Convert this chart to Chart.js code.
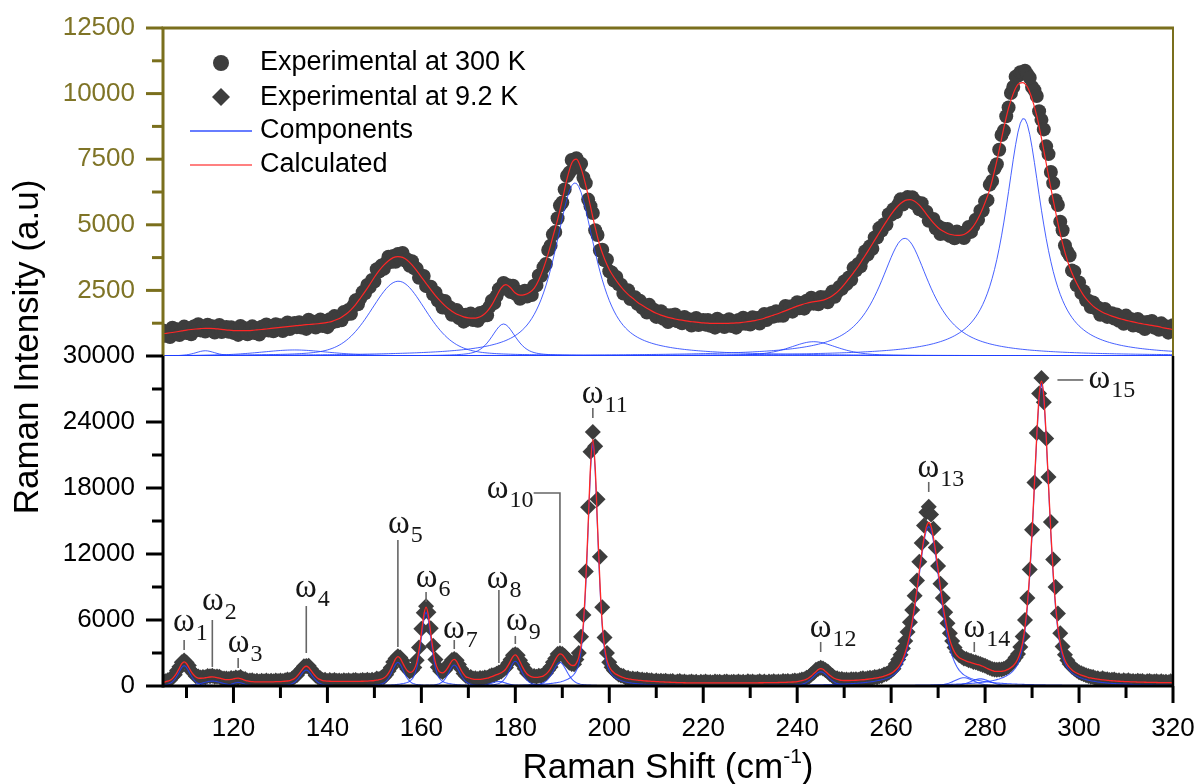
<!DOCTYPE html>
<html>
<head>
<meta charset="utf-8">
<script src="https://cdn.jsdelivr.net/npm/chart.js@4.4.1/dist/chart.umd.min.js"></script>
<style>
  html, body { margin: 0; padding: 0; background: #ffffff; }
  canvas { display: block; }
</style>
</head>
<body>
<canvas id="raman" width="1197" height="784"></canvas>
<script>
// Raman shift sampling of the measured spectra (cm-1)
const shiftStart = 105;
const shiftEnd = 320;
const expStep = 0.5;

// Measured intensity at 300 K, one value every 0.5 cm-1 from 105 to 320
const exp300K = [
  970,770,910,722,1075,880,1015,800,965,1120,
  875,1058,830,1120,980,1208,975,1080,935,1195,1035,1130,895,1085,1185,915,1005,1105,925,1098,
  880,1008,805,1145,935,1058,830,985,1130,878,1055,822,1110,970,1200,970,1080,940,1210,1060,
  1170,950,1160,1280,1030,1140,1260,1100,1290,1088,1225,1032,1380,1178,1305,1082,1240,1390,1140,1325,
  1100,1400,1270,1520,1320,1460,1360,1680,1580,1755,1610,1905,2120,1975,2200,2435,2390,2705,2630,2900,
  2840,3305,3220,3445,3320,3555,3780,3580,3810,3590,3890,3725,3930,3635,3680,3440,3610,3340,3330,2980,
  3060,3050,2670,2650,2640,2355,2420,2110,2140,1850,2100,1815,1860,1570,1660,1755,1450,1585,1310,1570,
  1400,1615,1370,1480,1340,1640,1520,1700,1550,1875,2110,2015,2280,2550,2540,2780,2630,2700,2440,2680,
  2370,2450,2180,2340,2490,2270,2480,2320,2680,2690,3070,3055,3380,3505,4040,4205,4630,4725,5250,5735,
  5850,6350,6860,6990,7470,7335,7540,7165,7330,6795,6590,5960,5710,5450,4790,4610,4020,4050,3650,3670,
  3230,3180,2880,3015,2730,2720,2380,2490,2510,2175,2200,2235,1990,2110,1840,1915,1660,1950,1690,1765,
  1490,1605,1710,1420,1560,1295,1550,1380,1580,1325,1410,1245,1490,1315,1400,1160,1350,1450,1180,1270,
  1370,1195,1370,1155,1280,1080,1420,1210,1330,1102,1255,1398,1140,1315,1080,1368,1225,1455,1225,1338,
  1200,1475,1330,1450,1240,1465,1600,1370,1500,1640,1500,1710,1530,1695,1530,1905,1730,1885,1690,1875,
  2050,1820,2020,1805,2110,1980,2220,1995,2110,1975,2250,2115,2240,2050,2290,2460,2260,2440,2630,2560,
  2840,2745,2990,2905,3360,3270,3510,3420,3710,3990,3870,4185,4090,4515,4510,4875,4780,5020,5010,5405,
  5380,5595,5480,5770,5970,5770,5930,6055,5900,6050,5810,5865,5590,5820,5500,5500,5150,5190,5220,4870,
  4950,4645,4860,4665,4840,4575,4650,4490,4740,4585,4690,4495,4730,4915,4730,4955,5190,5190,5540,5545,
  5890,5940,6530,6670,7140,7310,7860,8425,8590,9135,9470,10025,10250,10645,10680,10815,10800,10875,10730,10605,
  10250,10125,9910,9325,9000,8635,7990,7695,7010,6590,5940,5755,5120,4790,4210,3975,3830,3255,3210,2695,
  2800,2400,2470,2120,2110,1870,2040,1815,1850,1570,1720,1790,1490,1555,1630,1430,1580,1345,1450,1225,
  1540,1310,1410,1160,1290,1410,1130,1285,1030,1295,1130,1335,1080,1165,1000,1245,1050,1135,890,1075,
  1170
];

// Measured intensity at 9.2 K, one value every 0.5 cm-1 from 105 to 320
const exp9K = [
  460,427,526,553,840,1030,1410,1760,2150,2320,
  2140,1860,1390,1170,881,856,766,807,791,911,888,924,839,865,838,704,686,690,636,718,
  691,778,737,808,665,629,498,500,522,426,480,399,485,437,505,438,470,424,509,465,
  504,445,533,586,547,680,830,980,1300,1515,1800,1825,1850,1535,1290,960,800,702,548,558,
  465,542,485,550,478,506,455,534,484,515,446,518,551,474,509,544,501,570,511,567,
  530,673,639,741,800,1020,1360,1675,2175,2510,2700,2600,2300,1845,1550,1325,1435,1690,2350,3500,
  5200,6650,7250,6700,5250,3650,2400,1700,1360,1270,1440,1700,2060,2360,2450,2330,1960,1540,1140,910,
  820,811,693,699,642,725,701,766,741,876,979,991,1108,1220,1315,1510,1690,2070,2400,2800,
  2880,2790,2350,1930,1570,1190,1033,855,902,844,931,906,1017,1150,1460,1730,2170,2510,2900,2980,
  2900,2720,2440,2120,2000,1975,2420,3000,4480,6450,10400,16250,21300,23100,21800,16970,11750,7150,4400,3000,
  2150,1700,1400,1230,1040,960,902,753,755,635,685,610,660,570,580,512,575,510,525,442,
  500,429,488,438,488,399,430,451,352,413,445,360,406,333,370,419,338,387,306,395,
  345,414,344,373,323,403,353,383,314,385,416,336,366,396,346,406,337,377,318,429,
  360,400,330,372,424,346,399,321,414,367,440,374,409,363,448,405,444,384,465,511,
  455,516,591,605,750,840,1055,1195,1480,1570,1660,1580,1460,1320,1060,940,730,710,605,645,
  560,588,540,625,582,622,564,649,697,640,695,753,733,827,797,880,910,1040,1090,1220,
  1380,1560,2000,2400,2850,3400,4100,4900,5800,6900,8200,9600,11300,13000,14600,15800,16300,15600,14300,12600,
  10900,9300,8000,6700,5700,4800,4100,3500,3100,2800,2650,2500,2450,2330,2290,2180,2150,2060,2010,1920,
  1830,1720,1640,1550,1500,1470,1490,1500,1560,1660,1800,2000,2300,2600,2900,3550,4500,6000,8000,10600,
  14200,18500,23000,26600,28000,25800,22500,19000,14900,11500,9000,6600,4800,3600,2850,2350,2000,1750,1560,1400,
  1250,1150,1060,980,900,830,808,702,706,619,703,610,625,537,559,594,497,533,441,520,
  459,521,443,465,408,481,425,449,373,437,462,378,404,429,375,431,358,394,331,438,
  365
];

// Fitted (calculated) spectrum at 300 K, one value every 1 cm-1 from 105 to 320
const calcStep300K = 1;
const calc300K = [
  850,870,895,925,955,985,1010,1030,1045,1055,
  1055,1045,1025,1005,985,970,965,965,970,980,
  995,1010,1030,1050,1070,1090,1110,1130,1150,1170,
  1185,1200,1215,1230,1250,1280,1320,1390,1480,1600,
  1760,1960,2200,2450,2720,3000,3250,3460,3630,3750,
  3790,3760,3650,3470,3250,3010,2770,2530,2300,2100,
  1920,1770,1650,1560,1490,1450,1440,1460,1540,1700,
  1950,2280,2600,2720,2600,2400,2320,2340,2420,2580,
  2900,3350,3900,4550,5200,5950,6750,7350,7500,7150,
  6500,5700,4900,4200,3700,3300,3000,2750,2530,2350,
  2200,2050,1930,1820,1720,1630,1560,1500,1450,1410,
  1380,1350,1320,1300,1280,1260,1250,1240,1240,1240,
  1245,1250,1260,1275,1295,1320,1350,1390,1440,1500,
  1560,1620,1690,1760,1830,1900,1960,2010,2050,2080,
  2110,2160,2240,2360,2520,2720,2950,3180,3420,3700,
  3980,4270,4560,4850,5130,5400,5630,5810,5930,5960,
  5900,5750,5530,5290,5070,4890,4760,4670,4620,4600,
  4610,4680,4830,5080,5420,5850,6350,7050,7850,8700,
  9450,10000,10350,10420,10250,9800,9150,8300,7350,6400,
  5500,4650,3950,3380,2950,2600,2300,2080,1900,1770,
  1670,1590,1520,1460,1410,1360,1320,1280,1240,1210,
  1180,1150,1120,1070,1040,1010
];

// Fitted (calculated) spectrum at 9.2 K, one value every 0.5 cm-1 from 105 to 320
const calcStep9K = 0.5;
const calc9K = [
  340,377,436,523,672,915,1243,1641,2026,2193,
  2042,1680,1309,1019,821,726,706,717,751,791,818,824,809,765,708,654,606,580,576,598,
  641,688,707,668,595,519,458,420,392,376,380,379,375,377,375,378,380,384,389,395,
  404,415,433,456,497,571,686,876,1124,1415,1685,1795,1685,1415,1126,874,686,572,498,458,
  445,432,425,420,418,416,415,414,414,415,416,418,421,424,429,434,441,450,461,477,
  500,533,569,631,726,894,1174,1549,2015,2462,2669,2510,2111,1705,1403,1244,1275,1543,2132,3277,
  4802,6404,7169,6403,4797,3269,2121,1524,1245,1196,1323,1583,1935,2285,2421,2234,1827,1412,1076,829,
  760,681,633,609,602,605,631,666,711,776,849,941,1028,1110,1205,1332,1561,1891,2291,2673,
  2821,2634,2206,1760,1380,1097,933,835,792,784,801,846,927,1067,1283,1583,1967,2382,2745,2913,
  2844,2580,2277,2019,1880,1865,2080,2599,3711,5767,9593,14634,19898,22416,19872,14582,9512,5655,3559,2382,
  1767,1411,1210,1054,940,849,772,703,655,615,575,550,530,510,490,472,455,440,425,412,
  400,389,378,368,358,349,340,331,322,313,305,300,296,293,290,289,288,287,286,285,
  285,284,284,283,283,283,283,283,284,285,286,286,286,286,286,286,287,287,288,289,
  290,290,290,292,294,296,299,301,304,307,310,314,319,323,328,335,344,354,365,381,
  405,436,481,545,630,750,915,1105,1300,1500,1580,1520,1330,1140,960,800,680,600,545,515,
  500,498,500,505,512,522,534,549,567,590,615,643,673,707,747,790,838,900,970,1055,
  1150,1295,1470,1705,2025,2460,3050,3770,4735,5905,7260,8780,10455,12050,13435,14470,14863,14522,13504,12143,
  10578,8934,7453,6155,5051,4173,3551,3083,2769,2577,2457,2366,2269,2199,2121,2057,1995,1949,1882,1794,
  1687,1581,1485,1401,1336,1324,1323,1338,1368,1445,1536,1670,1846,2098,2490,3086,3974,5382,7461,10322,
  14043,18365,22797,26351,27715,26339,22774,18329,13994,10259,7385,5291,3867,2964,2350,1938,1665,1463,1300,1179,
  1067,985,914,842,771,730,688,652,616,589,563,540,515,497,479,464,447,433,421,410,
  399,391,383,375,368,361,355,349,343,337,332,328,324,319,315,311,308,304,301,298,
  295
];

// Fit components at 300 K: centre (cm-1), height, FWHM (cm-1), Lorentzian fraction
const comp300KCentre  = [114, 133, 155.1, 177.5, 192.7, 243.5, 262.9, 288.2];
const comp300KHeight  = [200, 230, 2850, 1220, 6600, 545, 4485, 9060];
const comp300KWidth   = [5, 18, 14, 6, 10.4, 12, 13, 9.5];
const comp300KLorentz = [0.5, 0.5, 0.3, 0.5, 0.8, 0.5, 0.9, 0.9];

// Fit components at 9.2 K (modes w1 ... w15, w14 split in two)
const comp9KCentre  = [109.5, 115.5, 121, 135.5, 155, 161, 167, 176.5, 180, 189.5, 196.5, 245, 268, 275.5, 279, 292];
const comp9KHeight  = [1850, 450, 330, 1450, 2150, 6700, 1900, 400, 2250, 2150, 22000, 1300, 14500, 750, 650, 27400];
const comp9KWidth   = [3, 5, 3, 3.2, 3, 2.6, 3, 4, 3.2, 3.6, 2.6, 4, 5.8, 5, 5, 4];
const comp9KLorentz = [0.5, 0.5, 0.5, 0.5, 0.5, 0.5, 0.5, 0.5, 0.5, 0.5, 0.5, 0.5, 0.5, 0.5, 0.5, 0.5];

// Axis ticks
const xLabelTicks = [120, 140, 160, 180, 200, 220, 240, 260, 280, 300, 320];
const xMinorTicks = [110, 130, 150, 170, 190, 210, 230, 250, 270, 290, 310];
const yTopLabelTicks = [2500, 5000, 7500, 10000, 12500];
const yTopMinorTicks = [1250, 3750, 6250, 8750, 11250];
const yBotLabelTicks = [0, 6000, 12000, 18000, 24000, 30000];
const yBotMinorTicks = [3000, 9000, 15000, 21000, 27000];

// Mode labels: text anchor (shift, intensity) and leader line, in data units
const modeNotes = [
  { n: '1',  at: [107.13, 5000],  lead: [[109.5, 4180], [109.5, 3270]] },
  { n: '2',  at: [113.3, 6910],   lead: [[115.5, 6000], [115.5, 1730]] },
  { n: '3',  at: [118.8, 3090],   lead: [[121, 2550], [121, 1640]] },
  { n: '4',  at: [133.1, 8090],   lead: [[135.5, 7270], [135.5, 3000]] },
  { n: '5',  at: [152.9, 13910],  lead: [[155, 13270], [155, 3550]] },
  { n: '6',  at: [158.8, 9000],   lead: [[161, 8550], [161, 7640]] },
  { n: '7',  at: [164.6, 4360],   lead: [[167, 4180], [167, 3360]] },
  { n: '8',  at: [173.9, 8910],   lead: [[176.5, 8730], [176.5, 2090]] },
  { n: '9',  at: [178.0, 5090],   lead: [[180, 4550], [180, 3820]] },
  { n: '10', at: [173.9, 17090],  lead: [[183.9, 17550], [189.5, 17550], [189.5, 3900]] },
  { n: '11', at: [194.15, 25730], lead: [[196.5, 25270], [196.5, 24360]] },
  { n: '12', at: [242.66, 4450],  lead: [[245, 4000], [245, 3090]] },
  { n: '13', at: [265.6, 19000],  lead: [[268, 18550], [268, 17640]] },
  { n: '14', at: [275.4, 4450],   lead: [[277.7, 4000], [277.7, 3090]] },
  { n: '15', at: [302.0, 27090],  lead: [[295.4, 27820], [300.9, 27820]] }
];

const OLIVE = '#7a6f1d';
const OLIVE_TEXT = '#7f7426';
const DARK = '#3d3d3d';
const BLUE = 'rgba(30,62,255,0.82)';
const RED = '#ff2626';
const SANS = '"Liberation Sans", Arial, sans-serif';
const SERIF = '"Liberation Serif", "Times New Roman", serif';

// Pseudo-Voigt line shape used by the fit
function lineShape(x, centre, height, fwhm, lorentz) {
  const u = (x - centre) / (fwhm / 2);
  return height * (lorentz / (1 + u * u) + (1 - lorentz) * Math.exp(-Math.LN2 * u * u));
}
function sampled(values, start, step) {
  return values.map((y, i) => ({ x: start + i * step, y }));
}
function componentPoints(k, centres, heights, widths, lorentz, step) {
  const pts = [];
  const n = Math.round((shiftEnd - shiftStart) / step);
  for (let i = 0; i <= n; i++) {
    const x = shiftStart + i * step;
    pts.push({ x, y: lineShape(x, centres[k], heights[k], widths[k], lorentz[k]) });
  }
  return pts;
}

const datasets = [];
datasets.push({
  label: 'Calculated', data: sampled(calc300K, shiftStart, calcStep300K), yAxisID: 'yTop',
  showLine: true, pointRadius: 0, borderColor: RED, borderWidth: 1.2,
  cubicInterpolationMode: 'monotone', order: 0
});
datasets.push({
  label: 'Calculated 9.2 K', data: sampled(calc9K, shiftStart, calcStep9K), yAxisID: 'yBot',
  showLine: true, pointRadius: 0, borderColor: RED, borderWidth: 1.3,
  cubicInterpolationMode: 'monotone', order: 0
});
comp300KCentre.forEach((c, k) => datasets.push({
  label: 'Components', data: componentPoints(k, comp300KCentre, comp300KHeight, comp300KWidth, comp300KLorentz, 0.5),
  yAxisID: 'yTop', showLine: true, pointRadius: 0, borderColor: BLUE, borderWidth: 1, order: 1
}));
comp9KCentre.forEach((c, k) => datasets.push({
  label: 'Components 9.2 K', data: componentPoints(k, comp9KCentre, comp9KHeight, comp9KWidth, comp9KLorentz, 0.25),
  yAxisID: 'yBot', showLine: true, pointRadius: 0, borderColor: BLUE, borderWidth: 1.1, order: 1
}));
datasets.push({
  label: 'Experimental at 300 K', data: sampled(exp300K, shiftStart, expStep), yAxisID: 'yTop',
  showLine: false, pointStyle: 'circle', pointRadius: 7, pointBackgroundColor: DARK,
  pointBorderWidth: 0, order: 2
});
datasets.push({
  label: 'Experimental at 9.2 K', data: sampled(exp9K, shiftStart, expStep), yAxisID: 'yBot',
  showLine: false, pointStyle: 'rectRot', pointRadius: 8, pointBackgroundColor: DARK,
  pointBorderWidth: 0, order: 2
});

function line(ctx, x1, y1, x2, y2) {
  ctx.beginPath(); ctx.moveTo(x1, y1); ctx.lineTo(x2, y2); ctx.stroke();
}

// Axis frame, axis lines and tick marks of both panels
const panelFrame = {
  id: 'panelFrame',
  afterDatasetsDraw(chart) {
    const { ctx, chartArea: a, scales } = chart;
    const yt = scales.yTop, yb = scales.yBot, xs = scales.x;
    const mid = yt.bottom;
    ctx.save();
    ctx.lineCap = 'butt';
    // upper panel (olive)
    ctx.strokeStyle = OLIVE;
    ctx.lineWidth = 3;
    line(ctx, a.left - 1.5, a.top, a.right + 1, a.top);
    line(ctx, a.left, a.top, a.left, mid);
    ctx.lineWidth = 2;
    line(ctx, a.right, a.top, a.right, mid);
    ctx.lineWidth = 3;
    yTopLabelTicks.forEach(v => { const y = yt.getPixelForValue(v); line(ctx, a.left - 17, y, a.left, y); });
    yTopMinorTicks.forEach(v => { const y = yt.getPixelForValue(v); line(ctx, a.left - 11, y, a.left, y); });
    // lower panel (black)
    ctx.strokeStyle = '#000000';
    ctx.lineWidth = 3;
    line(ctx, a.left, mid, a.left, a.bottom + 1.5);
    line(ctx, a.left, a.bottom, a.right + 1, a.bottom);
    ctx.lineWidth = 2.5;
    line(ctx, a.right, mid, a.right, a.bottom);
    ctx.lineWidth = 3;
    yBotLabelTicks.forEach(v => { const y = yb.getPixelForValue(v); line(ctx, a.left - 17, y, a.left, y); });
    yBotMinorTicks.forEach(v => { const y = yb.getPixelForValue(v); line(ctx, a.left - 11, y, a.left, y); });
    xLabelTicks.forEach(v => { const x = xs.getPixelForValue(v); line(ctx, x, a.bottom, x, a.bottom + 17); });
    xMinorTicks.forEach(v => { const x = xs.getPixelForValue(v); line(ctx, x, a.bottom, x, a.bottom + 12); });
    ctx.restore();
  }
};

// Mode labels, legend and axis titles
const notes = {
  id: 'notes',
  afterDraw(chart) {
    const { ctx, chartArea: a, scales } = chart;
    const xs = scales.x, yb = scales.yBot;
    ctx.save();
    // leader lines
    ctx.strokeStyle = '#666666';
    ctx.lineWidth = 1.6;
    modeNotes.forEach(m => {
      ctx.beginPath();
      m.lead.forEach((p, i) => {
        const px = xs.getPixelForValue(p[0]), py = yb.getPixelForValue(p[1]);
        if (i === 0) ctx.moveTo(px, py); else ctx.lineTo(px, py);
      });
      ctx.stroke();
    });
    // omega labels with subscripts
    ctx.fillStyle = '#161616';
    ctx.textBaseline = 'alphabetic';
    ctx.textAlign = 'left';
    modeNotes.forEach(m => {
      const px = xs.getPixelForValue(m.at[0]), py = yb.getPixelForValue(m.at[1]);
      ctx.font = '33px ' + SERIF;
      ctx.fillText('\u03c9', px, py);
      const w = ctx.measureText('\u03c9').width;
      ctx.font = '24px ' + SERIF;
      ctx.fillText(m.n, px + w + 1, py + 9);
    });

    // legend
    ctx.fillStyle = DARK;
    ctx.beginPath(); ctx.arc(221, 63, 8, 0, Math.PI * 2); ctx.fill();
    ctx.beginPath();
    ctx.moveTo(221, 88); ctx.lineTo(230, 97); ctx.lineTo(221, 106); ctx.lineTo(212, 97);
    ctx.closePath(); ctx.fill();
    ctx.lineWidth = 1.3;
    ctx.strokeStyle = '#3552ff';
    line(ctx, 190, 131, 252, 131);
    ctx.strokeStyle = '#ff5656';
    line(ctx, 190, 165, 252, 165);
    ctx.fillStyle = '#000000';
    ctx.font = '27px ' + SANS;
    ctx.textBaseline = 'middle';
    ctx.fillText('Experimental at 300 K', 260, 63);
    ctx.fillText('Experimental at 9.2 K', 260, 98);
    ctx.fillText('Components', 260, 131);
    ctx.fillText('Calculated', 260, 165);

    // y title
    ctx.save();
    ctx.translate(38, 347);
    ctx.rotate(-Math.PI / 2);
    ctx.textAlign = 'center';
    ctx.textBaseline = 'alphabetic';
    ctx.font = '35px ' + SANS;
    ctx.fillText('Raman Intensity (a.u)', 0, 0);
    ctx.restore();

    // x title with superscript
    const main = 'Raman Shift (cm', sup = '-1', tail = ')';
    ctx.textBaseline = 'alphabetic';
    ctx.textAlign = 'left';
    ctx.font = '35px ' + SANS;
    const w1 = ctx.measureText(main).width, w3 = ctx.measureText(tail).width;
    ctx.font = '21px ' + SANS;
    const w2 = ctx.measureText(sup).width;
    const cx = (a.left + a.right) / 2;
    let x0 = cx - (w1 + w2 + w3) / 2;
    const base = 778;
    ctx.font = '35px ' + SANS;
    ctx.fillText(main, x0, base);
    ctx.font = '21px ' + SANS;
    ctx.fillText(sup, x0 + w1, base - 15);
    ctx.font = '35px ' + SANS;
    ctx.fillText(tail, x0 + w1 + w2, base);
    ctx.restore();
  }
};

const tickFont = { family: SANS, size: 26 };

// Tick labels may hang past the plot edges; the frame is placed by the layout padding alone
function noOverhang(s) {
  s.paddingTop = 0; s.paddingBottom = 0; s.paddingLeft = 0; s.paddingRight = 0;
}

new Chart(document.getElementById('raman'), {
  type: 'scatter',
  data: { datasets },
  options: {
    responsive: false,
    animation: false,
    devicePixelRatio: 1,
    events: [],
    layout: { padding: { top: 28, right: 24, left: 0, bottom: 0 } },
    plugins: { legend: { display: false }, tooltip: { enabled: false } },
    scales: {
      x: {
        type: 'linear', position: 'bottom', min: shiftStart, max: shiftEnd,
        grid: { display: false, drawTicks: false }, border: { display: false },
        afterBuildTicks: s => { s.ticks = xLabelTicks.map(v => ({ value: v })); },
        afterFit: s => { s.height = 98; noOverhang(s); },
        ticks: { font: tickFont, color: '#000000', padding: 27, maxRotation: 0, autoSkip: false,
                 callback: v => String(v) }
      },
      yBot: {
        type: 'linear', position: 'left', stack: 'panels', stackWeight: 330, min: 0, max: 30000,
        grid: { display: false, drawTicks: false }, border: { display: false },
        afterBuildTicks: s => { s.ticks = yBotLabelTicks.map(v => ({ value: v })); },
        afterFit: s => { s.width = 163; noOverhang(s); },
        ticks: { font: tickFont, color: '#000000', padding: 28, callback: v => String(v) }
      },
      yTop: {
        type: 'linear', position: 'left', stack: 'panels', stackWeight: 328, min: 0, max: 12500,
        grid: { display: false, drawTicks: false }, border: { display: false },
        afterBuildTicks: s => { s.ticks = yTopLabelTicks.map(v => ({ value: v })); },
        afterFit: s => { s.width = 163; noOverhang(s); },
        ticks: { font: tickFont, color: OLIVE_TEXT, padding: 28, callback: v => String(v) }
      }
    }
  },
  plugins: [panelFrame, notes]
});
</script>
</body>
</html>
